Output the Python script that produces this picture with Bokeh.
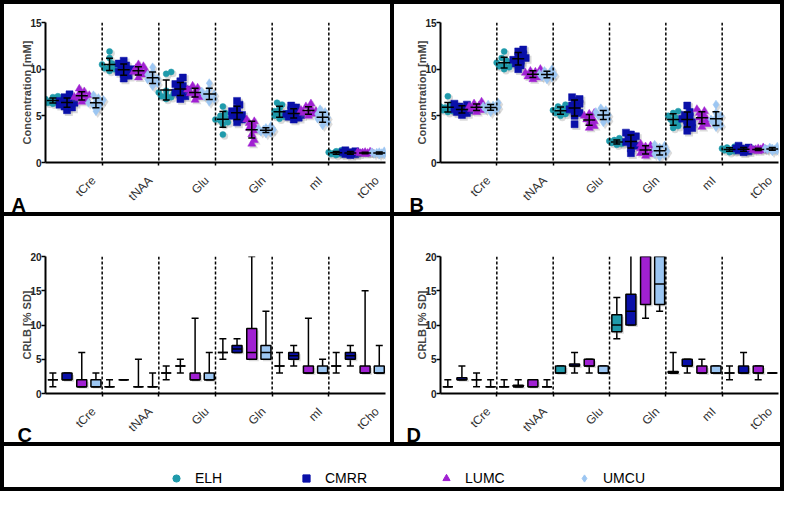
import numpy as np
from math import pi
from bokeh.plotting import figure
from bokeh.models import (Range1d, Span, Label, Legend, LegendItem, Spacer,
                          SingleIntervalTicker, FixedTicker)
from bokeh.layouts import column, row
from bokeh.embed import file_html
from bokeh.resources import INLINE

# ---------------- data ----------------
metabolites = ["tCre", "tNAA", "Glu", "Gln", "mI", "tCho"]
sites = ["ELH", "CMRR", "LUMC", "UMCU"]
colors = ["#1F9AAB", "#0A10A8", "#A020D2", "#9CC6F2"]
markers = ["circle", "square", "triangle", "diamond"]
marker_sizes = [6, 7, 8, 9]

# Panel A concentrations [mM], one list per metabolite
conc_a_elh = [[6.3, 6.4, 6.4, 6.5, 6.6, 6.7, 6.8, 7.0, 7.1],
              [9.8, 10.0, 10.1, 10.2, 10.3, 10.5, 10.6, 11.2, 11.9],
              [6.8, 7.0, 7.1, 7.2, 7.4, 7.5, 7.7, 9.5, 9.7],
              [3.0, 4.1, 4.3, 4.5, 4.6, 4.8, 5.0, 5.3, 6.0],
              [4.7, 4.9, 5.0, 5.2, 5.3, 5.5, 5.8, 6.2, 6.4],
              [0.8, 0.9, 0.9, 1.0, 1.0, 1.1, 1.1, 1.2, 1.3]]
conc_a_cmrr = [[5.6, 5.9, 6.0, 6.2, 6.3, 6.4, 6.5, 6.6, 6.8, 7.0, 7.3],
               [9.0, 9.3, 9.5, 9.7, 9.9, 10.0, 10.2, 10.4, 10.6, 10.9],
               [6.8, 7.1, 7.3, 7.5, 7.7, 7.8, 8.0, 8.2, 8.4, 8.7, 9.1],
               [4.3, 4.6, 4.8, 5.0, 5.1, 5.3, 5.5, 5.8, 6.2, 6.6],
               [4.6, 4.8, 4.9, 5.0, 5.1, 5.2, 5.4, 5.6, 5.9, 6.1],
               [0.8, 0.9, 0.9, 1.0, 1.0, 1.0, 1.1, 1.1, 1.2, 1.3]]
conc_a_lumc = [[6.5, 6.7, 6.9, 7.0, 7.1, 7.2, 7.4, 7.6, 7.9],
               [9.1, 9.4, 9.6, 9.7, 9.8, 9.9, 10.1, 10.3, 10.5],
               [6.7, 7.0, 7.2, 7.4, 7.5, 7.6, 7.8, 8.0, 8.2],
               [2.0, 2.4, 3.0, 3.4, 3.7, 3.9, 4.2, 4.4, 4.6],
               [5.0, 5.2, 5.3, 5.4, 5.5, 5.6, 5.8, 6.0, 6.3],
               [0.9, 0.95, 1.0, 1.0, 1.0, 1.05, 1.1, 1.1, 1.15]]
conc_a_umcu = [[5.5, 5.9, 6.1, 6.3, 6.4, 6.5, 6.7, 6.9, 7.2],
               [8.2, 8.5, 8.7, 8.9, 9.0, 9.2, 9.4, 9.7, 10.2],
               [6.5, 6.8, 7.0, 7.1, 7.3, 7.4, 7.6, 7.9, 8.5],
               [3.1, 3.2, 3.3, 3.4, 3.5, 3.5, 3.6, 3.7, 3.9],
               [4.0, 4.3, 4.5, 4.7, 4.8, 5.0, 5.2, 5.4, 5.7],
               [0.85, 0.9, 0.95, 1.0, 1.0, 1.05, 1.1, 1.1, 1.2]]

# Panel B concentrations [mM]
conc_b_elh = [[5.4, 5.5, 5.6, 5.7, 5.8, 5.9, 6.0, 6.2, 7.1],
              [10.0, 10.2, 10.3, 10.5, 10.6, 10.7, 10.9, 11.2, 11.9],
              [5.0, 5.2, 5.3, 5.4, 5.5, 5.6, 5.8, 6.0, 6.2],
              [1.9, 2.0, 2.1, 2.1, 2.2, 2.2, 2.3, 2.4, 2.6],
              [3.7, 3.9, 4.2, 4.4, 4.6, 4.8, 5.0, 5.3, 5.5],
              [1.1, 1.2, 1.3, 1.3, 1.4, 1.4, 1.5, 1.6, 1.7]]
conc_b_cmrr = [[5.1, 5.3, 5.4, 5.5, 5.6, 5.7, 5.8, 6.0, 6.2, 6.3],
               [10.0, 10.4, 10.6, 10.9, 11.0, 11.2, 11.4, 11.6, 11.9, 12.1],
               [4.1, 5.0, 5.3, 5.5, 5.7, 5.9, 6.1, 6.3, 6.6, 6.8, 7.0],
               [1.0, 1.5, 1.8, 2.0, 2.2, 2.4, 2.6, 2.8, 3.0, 3.2],
               [3.4, 3.7, 4.0, 4.3, 4.5, 4.7, 4.9, 5.1, 5.4, 6.1],
               [1.1, 1.2, 1.3, 1.3, 1.4, 1.4, 1.5, 1.5, 1.6, 1.8]]
conc_b_lumc = [[5.4, 5.6, 5.7, 5.8, 5.9, 6.0, 6.1, 6.3, 6.5],
               [8.9, 9.1, 9.2, 9.4, 9.5, 9.6, 9.7, 9.8, 10.0],
               [3.7, 3.9, 4.2, 4.4, 4.6, 4.8, 5.0, 5.2, 5.3],
               [0.7, 0.9, 1.0, 1.2, 1.3, 1.5, 1.7, 1.8, 2.0],
               [3.8, 4.1, 4.4, 4.6, 4.8, 5.0, 5.3, 5.5, 5.7],
               [1.2, 1.3, 1.3, 1.4, 1.4, 1.4, 1.5, 1.5, 1.6]]
conc_b_umcu = [[5.4, 5.6, 5.7, 5.8, 5.9, 6.0, 6.1, 6.2, 6.4],
               [8.9, 9.1, 9.2, 9.3, 9.4, 9.5, 9.6, 9.8, 10.0],
               [4.3, 4.6, 4.8, 5.0, 5.1, 5.2, 5.4, 5.6, 5.8],
               [0.6, 0.8, 0.9, 1.1, 1.2, 1.4, 1.6, 1.8, 1.9],
               [3.8, 4.0, 4.2, 4.4, 4.6, 4.8, 5.0, 5.3, 6.2],
               [1.2, 1.3, 1.4, 1.4, 1.5, 1.5, 1.5, 1.6, 1.7]]

# CRLB [%SD] box stats per metabolite: [min, q1, median, q3, max]
crlb_c_elh = [[1, 2, 2, 2, 3], [1, 1, 1, 1, 2], [2, 3, 3, 3, 4],
              [5, 6, 6, 6, 8], [3, 4, 4, 4, 6], [3, 4, 4, 4, 6]]
crlb_c_cmrr = [[2, 2, 2, 3, 3], [2, 2, 2, 2, 2], [3, 4, 4, 4, 5],
               [6, 6, 6.5, 7, 8], [4, 5, 5.5, 6, 7], [4, 5, 5.5, 6, 7]]
crlb_c_lumc = [[1, 1, 1, 2, 6], [1, 1, 1, 1, 5], [2, 2, 2, 3, 11],
               [5, 5, 6, 9.5, 20], [3, 3, 3, 4, 11], [3, 3, 3, 4, 15]]
crlb_c_umcu = [[1, 1, 1, 2, 3], [1, 1, 1, 1, 3], [2, 2, 2, 3, 6],
               [5, 5, 6, 7, 12], [3, 3, 3, 4, 5], [3, 3, 3, 4, 7]]

crlb_d_elh = [[1, 1, 1, 1, 2], [1, 1, 1, 1, 2], [3, 3, 3, 4, 4],
              [8, 9, 10, 11.5, 14], [3, 3, 3, 3.2, 6], [2, 3, 3, 3, 4]]
crlb_d_cmrr = [[2, 2, 2, 2.3, 4], [1, 1, 1, 1.2, 2], [3, 4, 4, 4.3, 6],
               [10, 10, 12, 14.5, 22], [3, 4, 4, 5, 5], [3, 3, 3, 4, 6]]
crlb_d_lumc = [[1, 2, 2, 2, 3], [1, 1, 1, 2, 2], [3, 4, 4, 5, 5],
               [11, 13, 20.5, 24, 26], [3, 3, 3, 4, 5], [2, 3, 3, 4, 4]]
crlb_d_umcu = [[1, 1, 1, 1, 2], [1, 1, 1, 1, 2], [3, 3, 3, 4, 4],
               [12, 13, 16, 22, 24], [3, 3, 3, 4, 4], [3, 3, 3, 3, 3]]

# ---------------- layout constants ----------------
FONT = "Liberation Sans"
site_offsets = [-0.37, -0.12, 0.14, 0.39]
label_shift = 0.35          # category label anchor shift (category units)
PANEL_W = 386
SC_H, SC_TOP, SC_FH = 208, 18, 140
BX_H, BX_TOP, BX_FH = 226, 40, 139
NCAT = len(metabolites)


def swarm(vals, ypx, d=5.0, maxoff=9.0):
    """Beeswarm: horizontal pixel offsets limiting marker overlap."""
    order = np.argsort(vals, kind="stable")
    step = d * 0.5
    kmax = int(maxoff / step)
    cands = [0.0]
    for k in range(1, kmax + 1):
        cands += [k * step, -k * step]
    placed, offs = [], [0.0] * len(vals)
    for i in order:
        y = vals[i] * ypx
        best, bestd = 0.0, -1.0
        for c in cands:
            md = min([((c - px) ** 2 + (y - py) ** 2) ** 0.5 for px, py in placed] or [99.0])
            if md >= d * 0.8:
                best = c
                break
            if md > bestd:
                best, bestd = c, md
        offs[i] = best
        placed.append((best, y))
    return offs


def base_figure(h, left, right, top, fh, ymax, ylabel):
    p = figure(width=PANEL_W, height=h, x_range=Range1d(0, NCAT),
               y_range=Range1d(0, ymax), output_backend="svg", toolbar_location=None,
               title=None, min_border_left=left, min_border_right=right,
               min_border_top=top, min_border_bottom=h - top - fh)
    p.xgrid.visible = False
    p.ygrid.visible = False
    p.outline_line_color = None
    p.yaxis.ticker = SingleIntervalTicker(interval=5, num_minor_ticks=0)
    p.yaxis.axis_label = ylabel
    p.yaxis.axis_label_text_font = FONT
    p.yaxis.axis_label_text_font_style = "bold"
    p.yaxis.axis_label_text_font_size = "11px"
    p.yaxis.axis_label_standoff = -6
    p.yaxis.major_label_text_font = FONT
    p.yaxis.major_label_text_font_style = "bold"
    p.yaxis.major_label_text_font_size = "10px"
    p.yaxis.major_label_text_color = "#222222"
    p.yaxis.major_tick_out = 4
    p.yaxis.major_tick_in = 0
    p.yaxis.major_tick_line_width = 1.5
    p.yaxis.major_label_standoff = 0
    p.axis.axis_line_width = 2
    ticks = [i + 0.5 + label_shift for i in range(NCAT)]
    p.xaxis.ticker = FixedTicker(ticks=ticks, minor_ticks=list(range(1, NCAT)))
    p.xaxis.major_label_overrides = {t: m for t, m in zip(ticks, metabolites)}
    p.xaxis.major_tick_line_color = None
    p.xaxis.minor_tick_line_color = "black"
    p.xaxis.minor_tick_line_width = 1.5
    p.xaxis.minor_tick_out = 3
    p.xaxis.minor_tick_in = 0
    p.xaxis.major_label_orientation = pi / 4
    p.xaxis.major_label_text_font = FONT
    p.xaxis.major_label_text_font_size = "12px"
    p.xaxis.major_label_text_color = "#333333"
    p.xaxis.major_label_standoff = 10
    for b in range(1, NCAT):
        p.add_layout(Span(location=b, dimension="height", line_color="black",
                          line_dash="3 2", line_width=1.5))
    return p


def add_letter(p, letter, x, y):
    # placed in the left side panel (not clipped by the frame), canvas coordinates
    p.add_layout(Label(x=x, y=y, x_units="canvas", y_units="canvas", text=letter,
                       text_font=FONT, text_font_style="bold", text_font_size="20px",
                       text_color="black", text_baseline="alphabetic"), "left")


def scatter_panel(site_data, left, right, letter, lx):
    p = base_figure(SC_H, left, right, SC_TOP, SC_FH, 15, "Concentration [mM]")
    px_x = (PANEL_W - left - right) / NCAT
    px_y = SC_FH / 15.0
    bars = []
    for s, data in enumerate(site_data):
        xs, ys = [], []
        for m, vals in enumerate(data):
            offs = swarm(vals, px_y)
            cx = m + 0.5 + site_offsets[s]
            xs += [cx + o / px_x for o in offs]
            ys += list(vals)
            bars.append((cx, float(np.mean(vals)), float(np.std(vals, ddof=1))))
        sx = [x + 1.8 / px_x for x in xs]
        sy = [y - 1.8 / px_y for y in ys]
        p.scatter(sx, sy, marker=markers[s], size=marker_sizes[s] + 1,
                  fill_color="#888888", line_color=None, alpha=0.3)
        p.scatter(xs, ys, marker=markers[s], size=marker_sizes[s],
                  fill_color=colors[s], line_color=colors[s], line_width=0.5)
    mw = 6.0 / px_x
    cw = 3.5 / px_x
    cx = [b[0] for b in bars]
    mu = [b[1] for b in bars]
    lo = [b[1] - b[2] for b in bars]
    hi = [b[1] + b[2] for b in bars]
    lw = dict(line_color="black", line_width=1.5)
    p.segment(cx, lo, cx, hi, **lw)
    p.segment([c - mw for c in cx], mu, [c + mw for c in cx], mu, **lw)
    p.segment([c - cw for c in cx], lo, [c + cw for c in cx], lo, **lw)
    p.segment([c - cw for c in cx], hi, [c + cw for c in cx], hi, **lw)
    add_letter(p, letter, lx, SC_H - 8)
    return p


def box_panel(site_data, left, right, letter, lx):
    p = base_figure(BX_H, left, right, BX_TOP, BX_FH, 20, "CRLB [% SD]")
    px_x = (PANEL_W - left - right) / NCAT
    px_y = BX_FH / 20.0
    bw = 10.0 / px_x
    cw = 3.5 / px_x
    lw = dict(line_color="black", line_width=1.5)
    for s, stats in enumerate(site_data):
        cx = [m + 0.5 + site_offsets[s] for m in range(NCAT)]
        mn = [v[0] for v in stats]
        q1 = [v[1] for v in stats]
        md = [v[2] for v in stats]
        q3 = [v[3] for v in stats]
        mx = [v[4] for v in stats]
        p.segment(cx, q3, cx, mx, **lw)
        p.segment(cx, mn, cx, q1, **lw)
        p.segment([c - cw for c in cx], mx, [c + cw for c in cx], mx, **lw)
        p.segment([c - cw for c in cx], mn, [c + cw for c in cx], mn, **lw)
        p.vbar(x=[c + 2.0 / px_x for c in cx], width=bw,
               bottom=[b - 2.0 / px_y for b in q1], top=[t - 2.0 / px_y for t in q3],
               fill_color="#888888", line_color=None, alpha=0.3)
        p.vbar(x=cx, width=bw, bottom=q1, top=q3, fill_color=colors[s], **lw)
        p.segment([c - bw / 2 for c in cx], md, [c + bw / 2 for c in cx], md, **lw)
    add_letter(p, letter, lx, BX_H - 8)
    return p


pa = scatter_panel([conc_a_elh, conc_a_cmrr, conc_a_lumc, conc_a_umcu], 41, 5, "A", 7)
pb = scatter_panel([conc_b_elh, conc_b_cmrr, conc_b_lumc, conc_b_umcu], 46, 2, "B", 15)
pc = box_panel([crlb_c_elh, crlb_c_cmrr, crlb_c_lumc, crlb_c_umcu], 41, 5, "C", 13)
pd = box_panel([crlb_d_elh, crlb_d_cmrr, crlb_d_lumc, crlb_d_umcu], 46, 2, "D", 12)

# legend panel (one off-range dummy point per site so that the legend draws the glyph)
pl = figure(width=776, height=41, x_range=Range1d(0, 1), y_range=Range1d(0, 1),
            output_backend="svg", toolbar_location=None, title=None,
            x_axis_location=None, y_axis_location=None, min_border=0)
pl.grid.visible = False
pl.outline_line_color = None
legend_x = [163, 293, 433, 571]
for s in range(len(sites)):
    r = pl.scatter(x=[-5], y=[-5], marker=markers[s], fill_color=colors[s], line_color=colors[s])
    leg = Legend(items=[LegendItem(label=sites[s], renderers=[r])], location=(legend_x[s], 0),
                 glyph_width=18, glyph_height=18, label_standoff=10, label_text_font=FONT,
                 label_text_font_size="14px", label_text_color="black",
                 border_line_color=None, background_fill_alpha=0, padding=0, margin=0)
    pl.add_layout(leg)

BLK = {"background-color": "black"}


def sp(w, h):
    return Spacer(width=w, height=h, styles=BLK)


W = 784
layout = column(
    sp(W, 4),
    row(sp(4, SC_H), pa, sp(4, SC_H), pb, sp(4, SC_H)),
    sp(W, 4),
    row(sp(4, BX_H), pc, sp(4, BX_H), pd, sp(4, BX_H)),
    sp(W, 4),
    row(sp(4, 41), pl, sp(4, 41)),
    sp(W, 4),
)

open("out.html", "w").write(file_html(layout, INLINE))
